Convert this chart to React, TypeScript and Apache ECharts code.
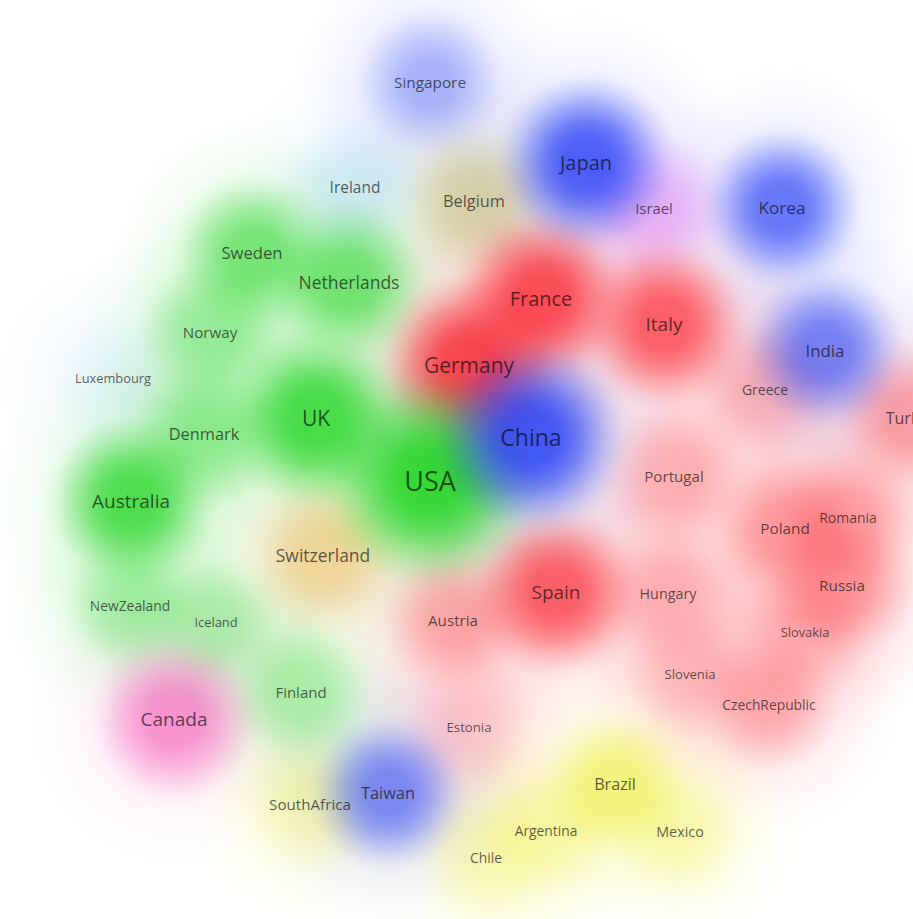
import React, { useEffect, useRef } from "react";
import * as echarts from "echarts";

const countries = [
  "USA", "China", "Germany", "UK", "France", "Japan", "Italy", "Spain", "Australia", "Canada",
  "Switzerland", "Netherlands", "Korea", "India", "Sweden", "Denmark", "Belgium", "Taiwan", "Brazil", "Turkey",
  "Ireland", "Poland", "Singapore", "Russia", "Norway", "Portugal", "Austria", "SouthAfrica", "Finland", "Israel",
  "Mexico", "Hungary", "Romania", "Greece", "Argentina", "CzechRepublic", "NewZealand", "Chile", "Estonia", "Slovenia",
  "Slovakia", "Iceland", "Luxembourg",
];
const mapX = [
  430, 531, 469, 316, 541, 586, 664, 556, 131, 174,
  323, 349, 782, 825, 252, 204, 474, 388, 615, 911,
  355, 785, 430, 842, 210, 674, 453, 310, 301, 654,
  680, 668, 848, 765, 546, 769, 130, 486, 469, 690,
  805, 216, 113,
];
const mapY = [
  480, 437, 365, 418, 298, 162, 324, 592, 501, 719,
  555, 282, 207, 350, 252, 434, 201, 793, 784, 418,
  187, 528, 82, 585, 332, 476, 620, 804, 692, 208,
  831, 593, 517, 389, 830, 704, 605, 857, 727, 674,
  632, 622, 378,
];
const weight = [
  102, 78, 66, 66, 60, 60, 54, 54, 54, 54,
  45, 45, 43, 41, 40, 38, 38, 38, 37, 36,
  33, 32, 32, 32, 31, 31, 31, 31, 30, 29,
  26, 26, 24, 24, 23, 23, 23, 23, 19, 19,
  17, 17, 17,
];
const density = [
  1.0, 1.0, 0.95, 0.85, 0.9, 0.9, 0.8, 0.8, 0.8, 0.75,
  0.55, 0.6, 0.75, 0.65, 0.55, 0.4, 0.55, 0.62, 0.6, 0.4,
  0.35, 0.35, 0.35, 0.35, 0.35, 0.3, 0.35, 0.3, 0.3, 0.45,
  0.3, 0.25, 0.3, 0.25, 0.3, 0.3, 0.3, 0.25, 0.15, 0.2,
  0.2, 0.25, 0.12,
];
const cluster = [
  "green", "blue", "red", "green", "red", "blue", "red", "red", "green", "pink",
  "orange", "green", "blue", "blue", "green", "green", "olive", "blue", "yellow", "red",
  "lightblue", "red", "blue", "red", "green", "red", "red", "yellow", "green", "violet",
  "yellow", "red", "red", "red", "yellow", "red", "green", "yellow", "red", "red",
  "red", "green", "lightblue",
];

const clusterRgb: Record<string, number[]> = {
  green: [15, 210, 15],
  blue: [30, 55, 245],
  red: [250, 35, 45],
  pink: [245, 95, 185],
  orange: [232, 178, 72],
  olive: [185, 175, 95],
  lightblue: [150, 205, 240],
  violet: [220, 110, 245],
  yellow: [235, 235, 45],
};

function rgba(c: number[], a: number) {
  return `rgba(${c[0]},${c[1]},${c[2]},${Math.max(0, Math.min(1, a)).toFixed(3)})`;
}

function smoothFall(t: number, start: number) {
  if (t <= start) return 1;
  const s = (t - start) / (1 - start);
  return 1 - (3 * s * s - 2 * s * s * s);
}

function radial(c: number[], peak: number, start: number) {
  const stops = [];
  const n = 16;
  for (let k = 0; k <= n; k++) {
    const t = k / n;
    stops.push({ offset: t, color: rgba(c, peak * smoothFall(t, start)) });
  }
  return { type: "radial", x: 0.5, y: 0.5, r: 0.5, colorStops: stops };
}

export default function App() {
  const ref = useRef<HTMLDivElement>(null);
  useEffect(() => {
    if (!ref.current) return;
    const chart = echarts.init(ref.current, undefined, { renderer: "svg" });
    const order = countries.map((_, i) => i).sort((a, b) => density[a] - density[b]);

    const blobData = order.map((i) => ({
      name: countries[i],
      value: [mapX[i], mapY[i]],
      symbolSize: 130 + weight[i] * 1.0,
      itemStyle: { color: radial(clusterRgb[cluster[i]], Math.min(1, density[i] * 1.05), 0.18) },
    }));
    const haloData = order.map((i) => ({
      name: countries[i],
      value: [mapX[i], mapY[i]],
      symbolSize: 250 + weight[i] * 1.2,
      itemStyle: { color: radial(clusterRgb[cluster[i]], 0.15, 0.1) },
    }));
    const labelData = countries.map((name, i) => ({
      name,
      value: [mapX[i], mapY[i]],
      label: { fontSize: 10 + weight[i] / 6 },
    }));

    chart.setOption({
      animation: false,
      backgroundColor: "#ffffff",
      grid: { left: 0, right: 0, top: 0, bottom: 0 },
      xAxis: { type: "value", min: 0, max: 913, show: false },
      yAxis: { type: "value", min: 0, max: 919, inverse: true, show: false },
      series: [
        { type: "scatter", symbol: "circle", data: haloData, silent: true, z: 1 },
        { type: "scatter", symbol: "circle", data: blobData, silent: true, z: 2 },
        {
          type: "scatter",
          symbol: "circle",
          symbolSize: 1,
          itemStyle: { color: "rgba(0,0,0,0)" },
          data: labelData,
          z: 3,
          label: {
            show: true,
            position: "inside",
            formatter: "{b}",
            color: "rgba(0,0,0,0.8)",
            fontFamily: "Open Sans",
          },
        },
      ],
    });
    return () => chart.dispose();
  }, []);
  return (
    <div
      ref={ref}
      style={{ position: "fixed", left: 0, top: 0, width: 913, height: 919 }}
    />
  );
}
